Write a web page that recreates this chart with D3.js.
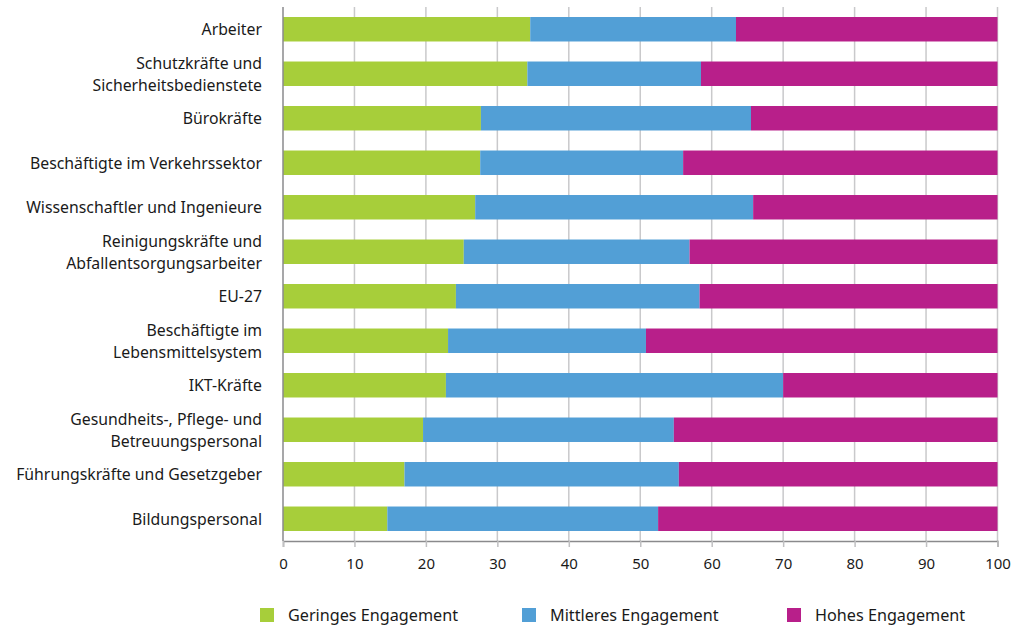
<!DOCTYPE html>
<html>
<head>
<meta charset="utf-8">
<script src="https://cdn.jsdelivr.net/npm/d3@7"></script>
<style>
  html, body { margin: 0; padding: 0; background: #fff; }
  svg { display: block; font-family: "Noto Sans", "Open Sans", sans-serif; }
</style>
</head>
<body>
<svg id="chart" width="1015" height="628"></svg>
<script>
// Occupational groups (line breaks mark two-line labels)
const categories = [
  "Arbeiter",
  "Schutzkräfte und\nSicherheitsbedienstete",
  "Bürokräfte",
  "Beschäftigte im Verkehrssektor",
  "Wissenschaftler und Ingenieure",
  "Reinigungskräfte und\nAbfallentsorgungsarbeiter",
  "EU-27",
  "Beschäftigte im\nLebensmittelsystem",
  "IKT-Kräfte",
  "Gesundheits-, Pflege- und\nBetreuungspersonal",
  "Führungskräfte und Gesetzgeber",
  "Bildungspersonal"
];

// Share of workers (%) by level of engagement
const geringes  = [34.6, 34.2, 27.7, 27.6, 26.9, 25.3, 24.2, 23.1, 22.8, 19.6, 17.0, 14.6];
const mittleres = [28.8, 24.3, 37.8, 28.4, 38.9, 31.6, 34.1, 27.7, 47.2, 35.1, 38.4, 37.9];
const hohes     = [36.6, 41.5, 34.5, 44.0, 34.2, 43.1, 41.7, 49.2, 30.0, 45.3, 44.6, 47.5];

const seriesNames = ["Geringes Engagement", "Mittleres Engagement", "Hohes Engagement"];
const seriesColors = ["#a7ce3a", "#529fd6", "#b81f8a"];
const xTicks = [0, 10, 20, 30, 40, 50, 60, 70, 80, 90, 100];

const svg = d3.select("#chart");
const margin = { left: 283, right: 17.5, top: 7, bottom: 87 };
const W = 1015, H = 628;
const labelSize = 15.8;

const rows = categories.map((c, i) => ({
  cat: c, k0: geringes[i], k1: mittleres[i], k2: hohes[i]
}));
const keys = ["k0", "k1", "k2"];
const stacked = d3.stack().keys(keys)(rows);

const x = d3.scaleLinear().domain([0, 100]).range([margin.left, W - margin.right]);
const y = d3.scaleBand().domain(categories).range([margin.top, H - margin.bottom]).paddingInner(0.45).paddingOuter(0.225);

// vertical gridlines
svg.append("g")
  .selectAll("line")
  .data(xTicks.filter(t => t > 0))
  .join("line")
  .attr("x1", d => x(d)).attr("x2", d => x(d))
  .attr("y1", margin.top).attr("y2", H - margin.bottom)
  .attr("stroke", "#c9c9cb").attr("stroke-width", 1.5);

// stacked bars
svg.append("g")
  .selectAll("g")
  .data(stacked)
  .join("g")
  .attr("fill", (d, i) => seriesColors[i])
  .selectAll("rect")
  .data(d => d)
  .join("rect")
  .attr("x", d => x(d[0]))
  .attr("width", d => x(d[1]) - x(d[0]))
  .attr("y", d => y(d.data.cat))
  .attr("height", y.bandwidth());

// bottom axis
const xAxis = svg.append("g")
  .attr("transform", `translate(0,${H - margin.bottom})`)
  .call(d3.axisBottom(x).tickValues(xTicks).tickSize(6).tickPadding(11).tickFormat(d3.format("d")));
xAxis.select(".domain").attr("stroke", "#8a8a8c").attr("stroke-width", 1.5);
xAxis.selectAll(".tick line").attr("stroke", "#c0c0c2").attr("stroke-width", 1.5);
xAxis.selectAll(".tick text").attr("fill", "#1a1a1a").attr("font-size", 15)
  .attr("font-family", "'Noto Sans', sans-serif");

// left axis line
svg.append("line")
  .attr("x1", margin.left).attr("x2", margin.left)
  .attr("y1", margin.top).attr("y2", H - margin.bottom)
  .attr("stroke", "#8a8a8c").attr("stroke-width", 1.5);

// category labels, one text element per line
const lh = 21.6;
const labelLines = [];
categories.forEach(c => {
  const lines = c.split("\n");
  lines.forEach((ln, j) => labelLines.push({ cat: c, text: ln, offset: j - (lines.length - 1) / 2 }));
});
svg.append("g")
  .selectAll("text")
  .data(labelLines)
  .join("text")
  .attr("x", margin.left - 21)
  .attr("y", d => y(d.cat) + y.bandwidth() / 2 + d.offset * lh)
  .attr("dy", "0.38em")
  .attr("text-anchor", "end")
  .attr("font-size", labelSize)
  .attr("fill", "#1a1a1a")
  .text(d => d.text);

// legend
const legendX = [260, 522, 787];
const legend = svg.append("g")
  .selectAll("g")
  .data(seriesNames)
  .join("g")
  .attr("transform", (d, i) => `translate(${legendX[i]},608)`);
legend.append("rect").attr("width", 14).attr("height", 14)
  .attr("fill", (d, i) => seriesColors[i]);
legend.append("text").attr("x", 28).attr("y", 7).attr("dy", "0.36em")
  .attr("font-size", 16.2).attr("fill", "#1a1a1a")
  .text(d => d);
</script>
</body>
</html>
